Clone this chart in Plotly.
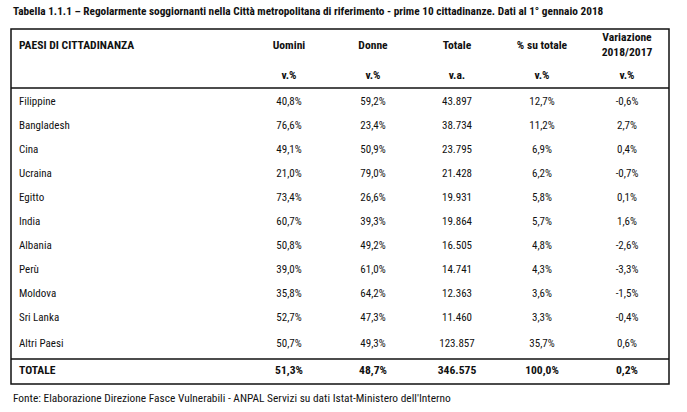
import plotly.graph_objects as go

title = "Tabella 1.1.1 – Regolarmente soggiornanti nella Città metropolitana di riferimento - prime 10 cittadinanze. Dati al 1° gennaio 2018"
source = "Fonte: Elaborazione Direzione Fasce Vulnerabili - ANPAL Servizi su dati Istat-Ministero dell'Interno"

headers = ["PAESI DI CITTADINANZA", "Uomini", "Donne", "Totale", "% su totale", "Variazione<br>2018/2017"]
units = ["", "v.%", "v.%", "v.a.", "v.%", "v.%"]

paesi = ["Filippine", "Bangladesh", "Cina", "Ucraina", "Egitto", "India", "Albania",
         "Perù", "Moldova", "Sri Lanka", "Altri Paesi"]
uomini = [40.8, 76.6, 49.1, 21.0, 73.4, 60.7, 50.8, 39.0, 35.8, 52.7, 50.7]
donne = [59.2, 23.4, 50.9, 79.0, 26.6, 39.3, 49.2, 61.0, 64.2, 47.3, 49.3]
totale = [43897, 38734, 23795, 21428, 19931, 19864, 16505, 14741, 12363, 11460, 123857]
perc_totale = [12.7, 11.2, 6.9, 6.2, 5.8, 5.7, 4.8, 4.3, 3.6, 3.3, 35.7]
variazione = [-0.6, 2.7, 0.4, -0.7, 0.1, 1.6, -2.6, -3.3, -1.5, -0.4, 0.6]

tot_label = "TOTALE"
tot_uomini = 51.3
tot_donne = 48.7
tot_totale = 346575
tot_perc = 100.0
tot_var = 0.2


def pct(v):
    return f"{v:.1f}%".replace(".", ",")


def thousands(v):
    return f"{v:,}".replace(",", ".")


FONT = "Liberation Sans Narrow, Arial Narrow, Roboto Condensed, DejaVu Sans Condensed, sans-serif"
TXT = "#111111"
FS = 11
FSB = 11.6

# layout geometry (pixels)
col_x = [19, 289, 373, 457, 542, 627]
row_y = [102, 126, 150, 174, 198, 222, 246, 270, 294, 318, 344]
tot_y = 371
head_y = 46
unit_y = 76
left, right = 11, 669
top, head_bot, tot_top, bottom = 29, 88, 359, 384

fig = go.Figure()

columns = [
    paesi,
    [pct(v) for v in uomini],
    [pct(v) for v in donne],
    [thousands(v) for v in totale],
    [pct(v) for v in perc_totale],
    [pct(v) for v in variazione],
]
tot_vals = [tot_label, pct(tot_uomini), pct(tot_donne), thousands(tot_totale), pct(tot_perc), pct(tot_var)]

for j, col in enumerate(columns):
    pos = "middle right" if j == 0 else "middle center"
    fig.add_trace(go.Scatter(
        x=[col_x[j]] * len(col), y=row_y, text=col, mode="text",
        textposition=pos, textfont=dict(family=FONT, size=FS, color=TXT),
        hoverinfo="skip", showlegend=False))
    fig.add_trace(go.Scatter(
        x=[col_x[j]], y=[head_y], text=[f"<b>{headers[j]}</b>"], mode="text",
        textposition=pos, textfont=dict(family=FONT, size=FSB, color=TXT),
        hoverinfo="skip", showlegend=False))
    if units[j]:
        fig.add_trace(go.Scatter(
            x=[col_x[j]], y=[unit_y], text=[f"<b>{units[j]}</b>"], mode="text",
            textposition=pos, textfont=dict(family=FONT, size=FSB, color=TXT),
            hoverinfo="skip", showlegend=False))
    fig.add_trace(go.Scatter(
        x=[col_x[j]], y=[tot_y], text=[f"<b>{tot_vals[j]}</b>"], mode="text",
        textposition=pos, textfont=dict(family=FONT, size=FSB, color=TXT),
        hoverinfo="skip", showlegend=False))

line = dict(color="#111111", width=1.5)
shapes = [
    dict(type="rect", x0=left, x1=right, y0=top, y1=bottom, line=line),
    dict(type="line", x0=left, x1=right, y0=head_bot, y1=head_bot, line=line),
    dict(type="line", x0=left, x1=right, y0=tot_top, y1=tot_top, line=line),
]

fig.update_layout(
    width=687, height=412, autosize=False,
    margin=dict(l=0, r=0, t=0, b=0),
    paper_bgcolor="white", plot_bgcolor="white",
    xaxis=dict(range=[0, 687], visible=False, fixedrange=True),
    yaxis=dict(range=[412, 0], visible=False, fixedrange=True),
    shapes=shapes,
    annotations=[
        dict(x=11, y=11, xref="x", yref="y", text=f"<b>{title}</b>", showarrow=False,
             xanchor="left", yanchor="middle", font=dict(family=FONT, size=11.3, color=TXT)),
        dict(x=11, y=398, xref="x", yref="y", text=source, showarrow=False,
             xanchor="left", yanchor="middle", font=dict(family=FONT, size=11.4, color=TXT)),
    ],
)

fig.write_html("out.html", config={"displayModeBar": False},
               post_script="document.body.style.margin='0';document.body.style.overflow='hidden';")
